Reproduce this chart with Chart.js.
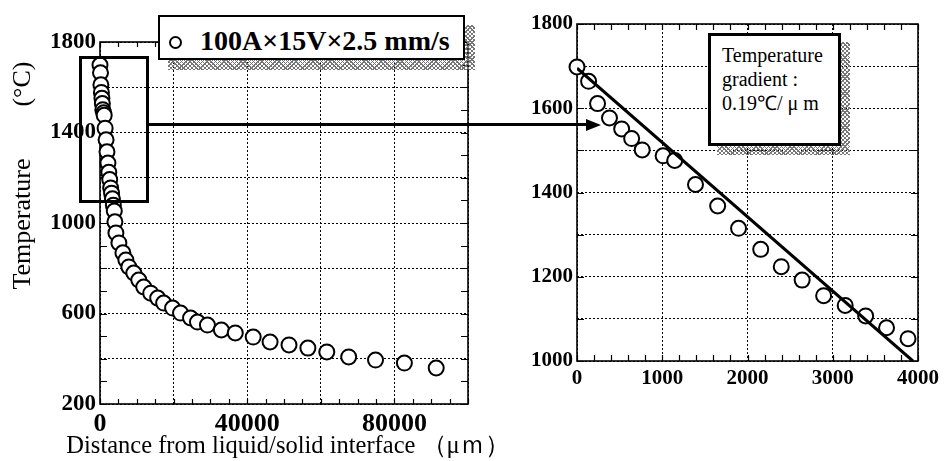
<!DOCTYPE html>
<html>
<head>
<meta charset="utf-8">
<script src="https://cdn.jsdelivr.net/npm/chart.js@4.4.1/dist/chart.umd.min.js"></script>
<style>
  html, body { margin: 0; padding: 0; background: #fff; }
  #wrap { position: relative; width: 944px; height: 461px; overflow: hidden; }
  canvas { position: absolute; top: 0; }
  #left { left: 0; }
  #right { left: 480px; }
  .hatch {
    position: absolute;
    background:
      repeating-linear-gradient(45deg, #777 0 1px, transparent 1px 3px),
      repeating-linear-gradient(-45deg, #777 0 1px, transparent 1px 3px);
  }
  .box { position: absolute; background: #fff; border: 2.5px solid #000; box-sizing: border-box; }
  .serif { font-family: "Liberation Serif", "Times New Roman", serif; color: #000; }
</style>
</head>
<body>
<div id="wrap">
  <canvas id="left" width="530" height="461"></canvas>
  <canvas id="right" width="464" height="461"></canvas>

  <!-- x axis title of the left chart, wider than its plot -->
  <div id="xTitle" class="serif" style="position:absolute; left:0; top:429px; width:576px; text-align:center; font-size:24.5px; line-height:32px; white-space:nowrap;"></div>

  <!-- legend box, left chart -->
  <div class="hatch" style="left:168px; top:25px; width:307px; height:45px;"></div>
  <div class="box" style="left:158px; top:15px; width:307px; height:45px;"></div>
  <div style="position:absolute; left:169px; top:36px; width:13px; height:13px; border:2px solid #000; border-radius:50%; box-sizing:border-box;"></div>
  <div id="legendText" class="serif" style="position:absolute; left:200px; top:26px; font-size:28px; font-weight:bold; line-height:30px; white-space:nowrap;"></div>

  <!-- zoom window and arrow -->
  <div style="position:absolute; left:79px; top:56px; width:70px; height:147px; border:3px solid #000; box-sizing:border-box;"></div>
  <div style="position:absolute; left:148px; top:123px; width:442px; height:3px; background:#000;"></div>
  <div style="position:absolute; left:586px; top:118.5px; width:0; height:0; border-left:15px solid #000; border-top:6px solid transparent; border-bottom:6px solid transparent;"></div>

  <!-- gradient note, right chart -->
  <div class="hatch" style="left:717px; top:42px; width:133px; height:113px;"></div>
  <div class="box" style="left:708px; top:33px; width:133px; height:113px; border-width:3px;"></div>
  <div id="noteText" class="serif" style="position:absolute; left:722px; top:43px; font-size:20px; line-height:24px; white-space:nowrap;"></div>
</div>

<script>
// right chart (0-4000 um close-up)
var zoomDistance = [0, 136, 241, 381, 524, 641, 765, 1010, 1146, 1390, 1650, 1895, 2155, 2396, 2641, 2893, 3146, 3386, 3631, 3883]
var zoomTemp = [1698, 1664, 1611, 1577, 1551, 1528, 1501, 1487, 1476, 1419, 1368, 1315, 1265, 1224, 1192, 1155, 1132, 1107, 1079, 1053]

// rest of the curve, only on the left chart
var tailDistance = [4050, 4325, 5135, 6220, 7030, 7840, 9190, 10540, 11890, 13790, 15680, 17300, 19730, 21890, 24600,
                    26490, 29190, 32980, 36760, 41630, 46220, 51360, 56490, 61630, 67580, 74870, 82710, 91360]
var tailTemp = [1005, 956, 912, 868, 836, 806, 779, 748, 717, 690, 668, 646, 624, 602, 580,
                562, 549, 527, 514, 496, 474, 461, 447, 430, 408, 394, 381, 359]

// fitted line on the close-up
var fitDistance = [0, 3940]
var fitTemp = [1695, 1000]

// tick labels
var leftXLabels = [0, 40000, 80000]
var leftYLabels = [200, 600, 1000, 1400, 1800]
var rightXLabels = [0, 1000, 2000, 3000, 4000]
var rightYLabels = [1000, 1200, 1400, 1600, 1800]

var seriesName = "100A\u00d715V\u00d72.5 mm/s"
var noteLines = ["Temperature", "gradient\u00a0:", "0.19\u2103/ \u03bc m"]
var xTitle = "Distance from liquid/solid interface \uff08\u03bc\uff4d\uff09"
var yTitle = "Temperature\u3000\u3000(\u00b0C)\u00a0\u00a0\u00a0"

document.getElementById("legendText").textContent = seriesName
document.getElementById("noteText").innerHTML = noteLines.join("<br>")
document.getElementById("xTitle").textContent = xTitle

var SERIF = "'Liberation Serif', 'Times New Roman', serif"

function toPoints(xs, ys){
    return xs.map(function(x, i){ return {x: x, y: ys[i]} })
}

// frame round the plot plus the small inward ticks on all four sides
var frameTicks = {
    id: "frameTicks",
    beforeDatasetsDraw: function(chart, args, opts){
        var ctx = chart.ctx
        var a = chart.chartArea
        var xs = chart.scales.x
        var ys = chart.scales.y
        ctx.save()
        ctx.strokeStyle = "#000"
        ctx.lineWidth = 1.2
        ctx.beginPath()
        var n = Math.round((xs.max - xs.min) / opts.xStep)
        for (var i = 0; i <= n; i++){
            var px = Math.round(xs.getPixelForValue(xs.min + i * opts.xStep)) + 0.5
            ctx.moveTo(px, a.bottom); ctx.lineTo(px, a.bottom - opts.xLen)
            ctx.moveTo(px, a.top); ctx.lineTo(px, a.top + opts.xLen)
        }
        var m = Math.round((ys.max - ys.min) / opts.yStep)
        for (var j = 0; j <= m; j++){
            var py = Math.round(ys.getPixelForValue(ys.min + j * opts.yStep)) + 0.5
            ctx.moveTo(a.left, py); ctx.lineTo(a.left + opts.yLen, py)
            ctx.moveTo(a.right, py); ctx.lineTo(a.right - opts.yLen, py)
        }
        ctx.stroke()
        ctx.lineWidth = 1.6
        ctx.strokeRect(a.left, a.top, a.right - a.left, a.bottom - a.top)
        ctx.restore()
    }
}

function axisX(min, max, step, labels, size, extra){
    var ax = {
        type: "linear", min: min, max: max,
        ticks: {
            stepSize: step, autoSkip: false, maxRotation: 0, padding: 5, color: "#000",
            font: {family: SERIF, size: size, weight: "bold"},
            callback: function(v){ return labels.indexOf(v) >= 0 ? String(v) : "" }
        },
        grid: {color: "#000", lineWidth: 1, drawTicks: false},
        border: {display: false, dash: [2, 2]}
    }
    return Object.assign(ax, extra || {})
}

function axisY(min, max, step, labels, size, extra){
    var ax = {
        type: "linear", min: min, max: max,
        ticks: {
            stepSize: step, autoSkip: false, padding: 4, color: "#000",
            font: {family: SERIF, size: size, weight: "bold"},
            callback: function(v){ return labels.indexOf(v) >= 0 ? String(v) : "" }
        },
        grid: {color: "#000", lineWidth: 1, drawTicks: false},
        border: {display: false, dash: [2, 2]}
    }
    return Object.assign(ax, extra || {})
}

var circleStyle = {
    pointRadius: 7.5, pointHoverRadius: 7.5, pointBorderWidth: 2,
    pointBorderColor: "#000", pointBackgroundColor: "#fff", clip: false
}

new Chart(document.getElementById("left"), {
    type: "scatter",
    data: {
        datasets: [Object.assign({
            label: seriesName,
            data: toPoints(zoomDistance.concat(tailDistance), zoomTemp.concat(tailTemp))
        }, circleStyle)]
    },
    options: {
        responsive: false, animation: false, events: [],
        layout: {padding: {left: 0, top: 42, right: 62, bottom: 0}},
        plugins: {
            legend: {display: false}, tooltip: {enabled: false},
            frameTicks: {xStep: 5000, xLen: 5, yStep: 100, yLen: 7}
        },
        scales: {
            x: axisX(0, 100000, 20000, leftXLabels, 26, {
                afterFit: function(s){ s.height = 57 }
            }),
            y: axisY(200, 1800, 200, leftYLabels, 23, {
                title: {display: true, align: "end", text: yTitle,
                        color: "#000", font: {family: SERIF, size: 26}, padding: {top: 8, bottom: 0}},
                afterFit: function(s){ s.width = 100 }
            })
        }
    },
    plugins: [frameTicks]
})

new Chart(document.getElementById("right"), {
    type: "scatter",
    data: {
        datasets: [
            {
                label: "fit", data: toPoints(fitDistance, fitTemp), showLine: true,
                borderColor: "#000", borderWidth: 3, pointRadius: 0, order: 0
            },
            Object.assign({label: seriesName, data: toPoints(zoomDistance, zoomTemp), order: 1}, circleStyle)
        ]
    },
    options: {
        responsive: false, animation: false, events: [],
        layout: {padding: {left: 0, top: 24, right: 24, bottom: 60}},
        plugins: {
            legend: {display: false}, tooltip: {enabled: false},
            frameTicks: {xStep: 200, xLen: 6, yStep: 100, yLen: 7}
        },
        scales: {
            x: axisX(0, 4000, 1000, rightXLabels, 21, {afterFit: function(s){ s.height = 40 }}),
            y: axisY(1000, 1800, 100, rightYLabels, 21, {afterFit: function(s){ s.width = 97 }})
        }
    },
    plugins: [frameTicks]
})
</script>
</body>
</html>
